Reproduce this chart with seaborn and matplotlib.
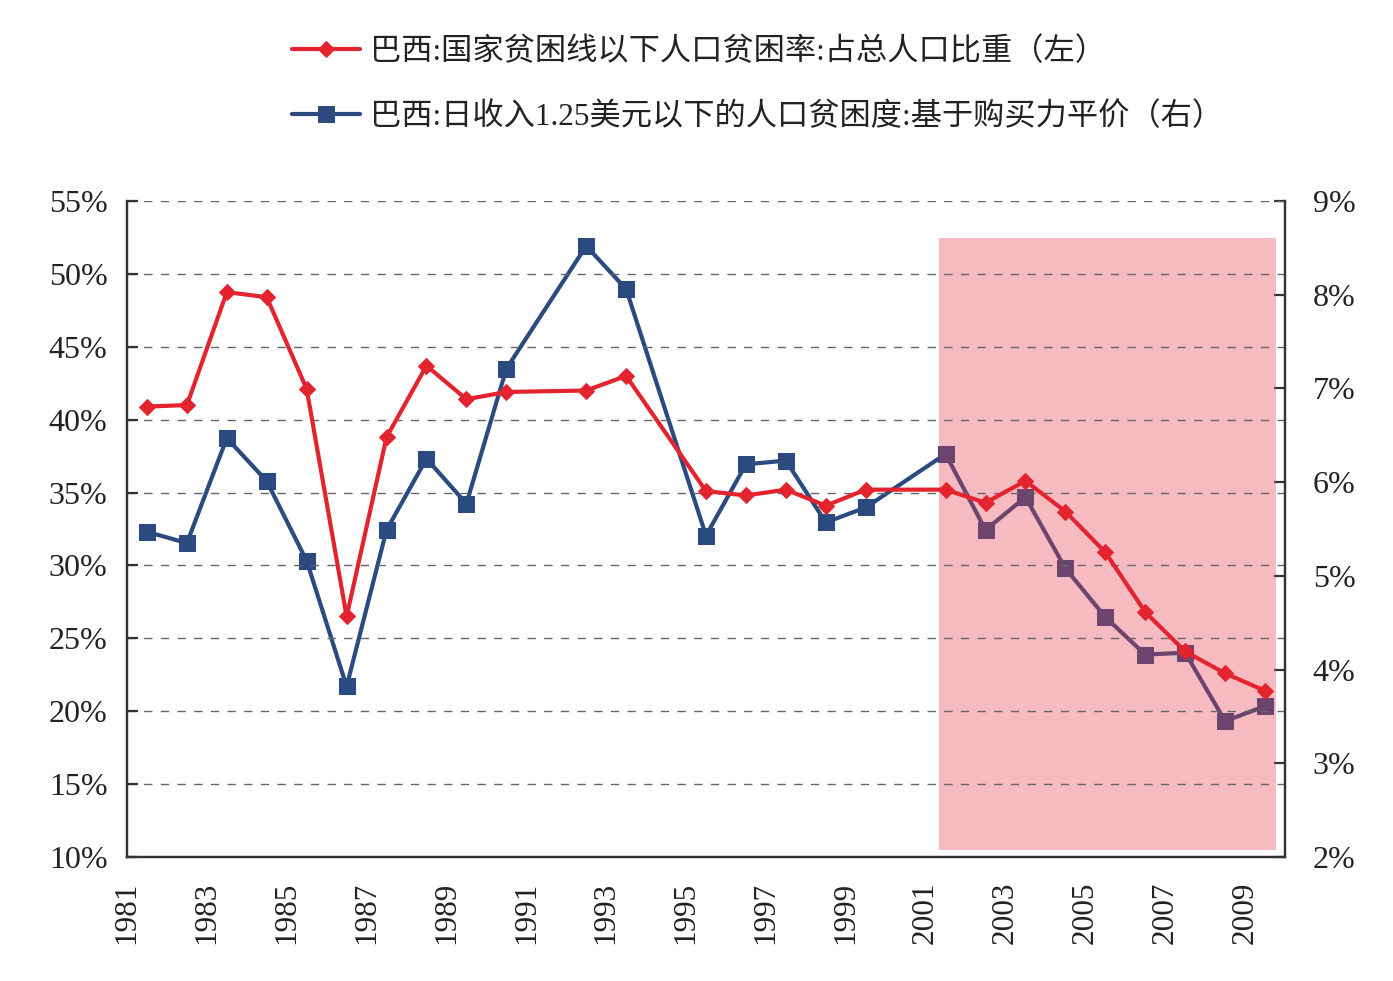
import numpy as np
import pandas as pd
import matplotlib
matplotlib.use("Agg")
import matplotlib.pyplot as plt
import seaborn as sns
from matplotlib.patches import Rectangle
from matplotlib.ticker import FuncFormatter, MultipleLocator

# ── Data ─────────────────────────────────────────────────────────────────────
years = [1981, 1982, 1983, 1984, 1985, 1986, 1987, 1988, 1989, 1990, 1992, 1993,
         1995, 1996, 1997, 1998, 1999, 2001, 2002, 2003, 2004, 2005, 2006, 2007,
         2008, 2009]
national_line = [40.9, 41.0, 48.75, 48.4, 42.1, 26.5, 38.8, 43.7, 41.4, 41.9, 42.0, 43.0,
                 35.1, 34.8, 35.2, 34.1, 35.2, 35.2, 34.3, 35.8, 33.7, 30.9, 26.8, 24.1,
                 22.6, 21.4]
ppp_125 = [5.47, 5.35, 6.47, 6.01, 5.16, 3.82, 5.49, 6.25, 5.77, 7.21, 8.52, 8.06,
           5.43, 6.19, 6.23, 5.57, 5.73, 6.30, 5.49, 5.84, 5.08, 4.56, 4.16, 4.18,
           3.45, 3.61]
label_left = "巴西:国家贫困线以下人口贫困率:占总人口比重（左）"
label_right = "巴西:日收入1.25美元以下的人口贫困度:基于购买力平价（右）"
highlight = (2001.33, 2009.78)

df = pd.DataFrame({"year": years, "left": national_line, "right": ppp_125})
df["x"] = df["year"] + 0.5  # points sit between the year ticks

RED = "#e3242f"
BLUE = "#2b4a7f"
SERIF = ["Liberation Serif", "Noto Sans CJK SC"]

sns.set_style("white")
plt.rcParams["font.family"] = SERIF

fig = plt.figure(figsize=(13.93, 9.81), dpi=100)
# primary axes carries the blue series (right scale) so it sits under the shading
ax_r = fig.add_axes([127 / 1393, 1 - 857 / 981, (1285 - 127) / 1393, (857 - 201) / 981])
ax_l = ax_r.twinx()
ax_r.yaxis.tick_right()
ax_r.yaxis.set_label_position("right")
ax_l.yaxis.tick_left()
ax_l.yaxis.set_label_position("left")

sns.lineplot(data=df, x="x", y="right", ax=ax_r, color=BLUE, lw=3, marker="s",
             markersize=11, markeredgecolor=BLUE, label=label_right, legend=False)
ax_l.add_patch(Rectangle((highlight[0], 10.5), highlight[1] - highlight[0], 52.45 - 10.5,
                         facecolor=(0.91, 0.23, 0.31), alpha=0.35, lw=0, zorder=1))
sns.lineplot(data=df, x="x", y="left", ax=ax_l, color=RED, lw=3, marker="D",
             markersize=8.5, markeredgecolor=RED, label=label_left, legend=False, zorder=3)

ax_l.set_ylim(10, 55)
ax_r.set_ylim(2, 9)
ax_r.set_xlim(1981, 2010)
ax_l.yaxis.set_major_locator(MultipleLocator(5))
ax_r.yaxis.set_major_locator(MultipleLocator(1))
ax_l.yaxis.set_major_formatter(FuncFormatter(lambda v, p: f"{v:.0f}%"))
ax_r.yaxis.set_major_formatter(FuncFormatter(lambda v, p: f"{v:.0f}%"))
ax_r.set_xticks(range(1981, 2010, 2))
ax_r.set_xticklabels([str(y) for y in range(1981, 2010, 2)], rotation=90)

ax_l.set_axisbelow("line")
ax_l.grid(axis="y", color="#666666", ls=(0, (6, 6)), lw=1)
ax_r.grid(False)
ax_l.grid(axis="x", visible=False)

for a in (ax_l, ax_r):
    a.set_xlabel("")
    a.set_ylabel("")
    for side in ("left", "right", "bottom"):
        a.spines[side].set_visible(True)
        a.spines[side].set_color("#333333")
        a.spines[side].set_linewidth(1.6)
    a.spines["top"].set_visible(False)
    a.tick_params(direction="in", length=8, width=1.6, color="#333333",
                  labelsize=23, labelcolor="#222222", pad=14)
ax_r.tick_params(axis="x", labelsize=22.5, pad=18)
ax_r.tick_params(axis="y", pad=20)
ax_l.tick_params(axis="y", pad=14)

handles = ax_l.get_lines()[:1] + ax_r.get_lines()[:1]
fig.legend(handles, [label_left, label_right], loc="upper left",
           bbox_to_anchor=(276 / 1393, 1 - 22 / 981), frameon=False,
           prop={"family": SERIF, "size": 22.5}, handlelength=2.2,
           handletextpad=0.3, labelspacing=1.1, borderpad=0, labelcolor="#222222")

plt.savefig("out.png", dpi=100)
plt.close()
